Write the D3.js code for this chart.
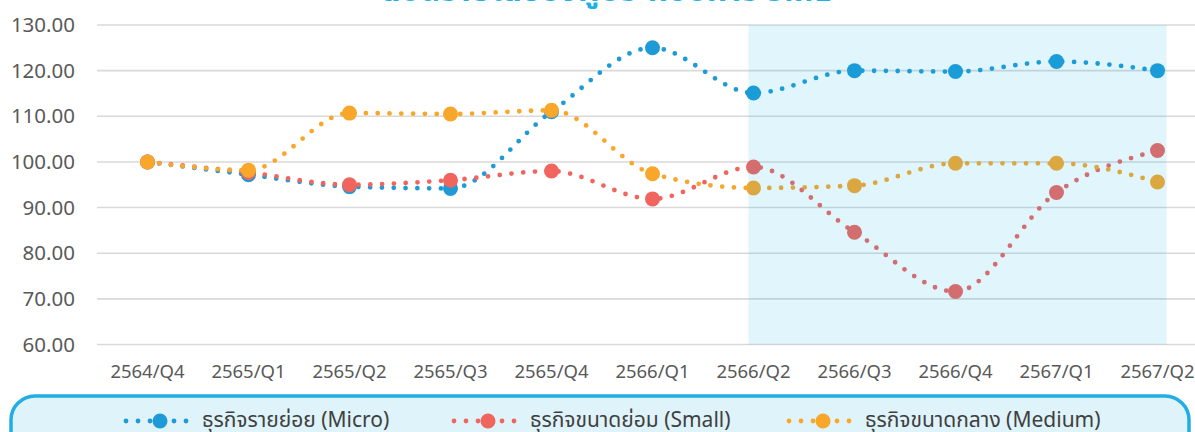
<!DOCTYPE html>
<html>
<head>
<meta charset="utf-8">
<script src="https://cdn.jsdelivr.net/npm/d3@7"></script>
<style>
  body { margin: 0; background: #fff; }
  svg { display: block; font-family: "Noto Sans", "Leelawadee UI", "Noto Sans Thai", sans-serif; }
</style>
</head>
<body>
<svg width="1195" height="432"></svg>
<script>
// data
const categories = ['2564/Q4', '2565/Q1', '2565/Q2', '2565/Q3', '2565/Q4', '2566/Q1',
                    '2566/Q2', '2566/Q3', '2566/Q4', '2567/Q1', '2567/Q2']
const microValues  = [100, 97.2, 94.6, 94.2, 111.0, 125.0, 115.1, 120.0, 119.8, 122.0, 120.0]
const smallValues  = [100, 97.7, 95.0, 96.0, 98.0, 91.9, 98.9, 84.6, 71.6, 93.3, 102.5]
const mediumValues = [100, 98.2, 110.7, 110.5, 111.3, 97.4, 94.3, 94.8, 99.7, 99.7, 95.6]
const seriesNames = ['ธุรกิจรายย่อย (Micro)', 'ธุรกิจขนาดย่อม (Small)', 'ธุรกิจขนาดกลาง (Medium)']
const yTicks = [60, 70, 80, 90, 100, 110, 120, 130]
const shadedFrom = '2566/Q2'
const shadedTo = '2567/Q2'
const title = 'ดัชนีรายได้ของผู้ประกอบการ SME'

const colors = ['#1e9ad6', '#f0665f', '#f9a72b']
const seriesData = [microValues, smallValues, mediumValues]

const svg = d3.select('svg')
const width = +svg.attr('width')
const height = +svg.attr('height')

const x = d3.scaleBand()
    .domain(categories)
    .range([97, 1208])
const cx = c => x(c) + x.bandwidth() / 2

const y = d3.scaleLinear()
    .domain([60, 130])
    .range([344.5, 25])

// title (mostly cut off at the top)
svg.append('text')
    .attr('x', 606)
    .attr('y', 0.5)
    .attr('text-anchor', 'middle')
    .attr('font-size', 32)
    .attr('font-weight', 'bold')
    .attr('fill', '#1fb0e6')
    .text(title)

// grid
svg.append('g')
    .selectAll('line')
    .data(yTicks)
    .join('line')
    .attr('x1', 97)
    .attr('x2', width)
    .attr('y1', d => y(d))
    .attr('y2', d => y(d))
    .attr('stroke', '#d9d9d9')
    .attr('stroke-width', 1.6)

// y axis
const yAxis = d3.axisLeft(y).tickValues(yTicks).tickFormat(d3.format('.2f')).tickSize(0).tickPadding(0)
const yAxisG = svg.append('g')
    .attr('transform', 'translate(75,0)')
    .call(yAxis)
    .attr('font-family', null)
    .attr('font-size', 20.5)
yAxisG.select('.domain').remove()
yAxisG.selectAll('text')
    .attr('fill', '#595959')

// x axis
const xAxis = d3.axisBottom(x).tickSize(0).tickPadding(0)
const xAxisG = svg.append('g')
    .attr('transform', 'translate(0,365)')
    .call(xAxis)
    .attr('font-family', null)
    .attr('font-size', 18.5)
xAxisG.select('.domain').remove()
xAxisG.selectAll('text')
    .attr('fill', '#595959')

// lines
const line = d3.line()
    .x((d, i) => cx(categories[i]))
    .y(d => y(d))
    .curve(d3.curveMonotoneX)

const seriesG = svg.append('g')
seriesData.forEach((vals, si) => {
    seriesG.append('path')
        .datum(vals)
        .attr('d', line)
        .attr('fill', 'none')
        .attr('stroke', colors[si])
        .attr('stroke-width', 4.8)
        .attr('stroke-linecap', 'round')
        .attr('stroke-dasharray', '0 11.8')
    seriesG.append('g')
        .selectAll('circle')
        .data(vals)
        .join('circle')
        .attr('cx', (d, i) => cx(categories[i]))
        .attr('cy', d => y(d))
        .attr('r', 7.5)
        .attr('fill', colors[si])
})

// shaded forecast period, drawn over the lines
const step = x.step()
svg.append('rect')
    .attr('x', cx(shadedFrom) - step * 0.05)
    .attr('y', y(130))
    .attr('width', cx(shadedTo) - cx(shadedFrom) + step * 0.14)
    .attr('height', y(60) - y(130))
    .attr('fill', 'rgb(0,176,230)')
    .attr('fill-opacity', 0.12)

// legend
const legendG = svg.append('g')
legendG.append('rect')
    .attr('x', 11)
    .attr('y', 396)
    .attr('width', 1178)
    .attr('height', 70)
    .attr('rx', 24)
    .attr('fill', '#dff3fa')
    .attr('stroke', '#22ade4')
    .attr('stroke-width', 3.5)

const legendMarkerX = [160, 488, 823]
seriesNames.forEach((name, i) => {
    const g = legendG.append('g').attr('transform', `translate(${legendMarkerX[i]},421)`)
    g.append('line')
        .attr('x1', -34).attr('x2', 27)
        .attr('stroke', colors[i])
        .attr('stroke-width', 4.8)
        .attr('stroke-linecap', 'round')
        .attr('stroke-dasharray', '0 12')
    g.append('circle')
        .attr('r', 7.5)
        .attr('fill', colors[i])
    g.append('text')
        .attr('x', 42)
        .attr('y', 6.3)
        .attr('font-size', 21)
        .attr('fill', '#404040')
        .text(name)
})
</script>
</body>
</html>
